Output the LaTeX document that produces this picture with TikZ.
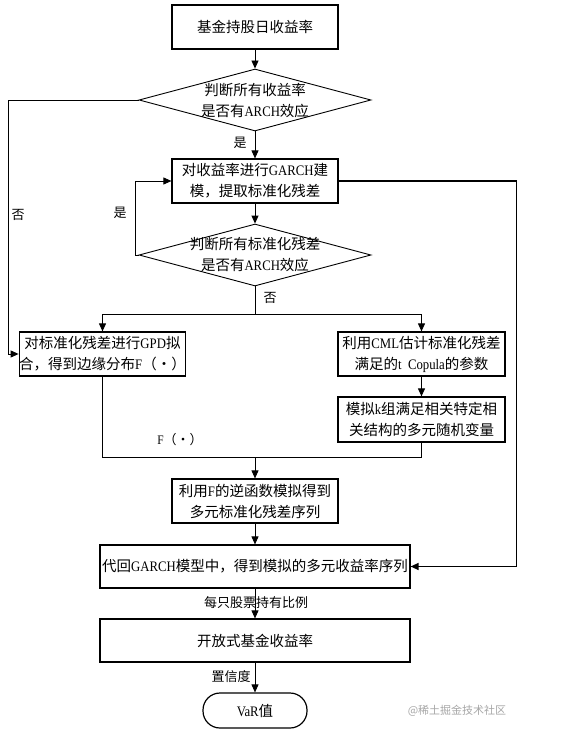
\documentclass[tikz,border=0pt]{standalone}
\usepackage{fontspec}
\setmainfont{Liberation Serif}[FakeStretch=0.88]
\newfontfamily\cjk{Noto Sans CJK SC}
\usetikzlibrary{shapes.geometric,arrows.meta}
\newcommand\zh[1]{{\cjk #1}}
\tikzset{
  box/.style={draw, line width=1.2pt, inner sep=0pt, align=center,
    font=\fontsize{14.5}{21}\selectfont},
  dia/.style={draw, shape=diamond, line width=0.9pt, inner sep=0pt,
    minimum width=232pt, minimum height=62pt},
  diatext/.style={align=center, inner sep=0pt, font=\fontsize{14.5}{21}\selectfont},
  lbl/.style={inner sep=0pt, font=\fontsize{13}{15}\selectfont},
  conn/.style={line width=0.9pt},
  arr/.style={conn, -{Triangle[length=8pt,width=7pt]}},
}
\begin{document}
\begin{tikzpicture}[x=1pt,y=-1pt]
\useasboundingbox (0,0) rectangle (580,738);
\node[box, minimum width=166pt, minimum height=44pt] (b1) at (255,27) {\zh{基金持股日收益率}};
\node[dia] (d1) at (255,100) {};
\node[diatext] (t1) at (255,100) {\zh{判断所有收益率}\\\zh{是否有}ARCH\zh{效应}};
\node[box, minimum width=166pt, minimum height=44pt] (b2) at (255,181) {\zh{对收益率进行}GARCH\zh{建}\\\zh{模，提取标准化残差}};
\node[dia] (d2) at (255,255) {};
\node[diatext] (t2) at (255,255) {\zh{判断所有标准化残差}\\\zh{是否有}ARCH\zh{效应}};
\node[box, minimum width=165pt, minimum height=44pt] (b3) at (102.5,354) {\zh{对标准化残差进行}GPD\zh{拟}\\\zh{合，得到边缘分布}F\zh{（•）}};
\node[box, minimum width=167pt, minimum height=44pt] (b4) at (421.5,354) {\zh{利用}CML\zh{估计标准化残差}\\\zh{满足的}t\ \ Copula\zh{的参数}};
\node[box, minimum width=167pt, minimum height=45pt] (b5) at (421.5,419.5) {\zh{模拟}k\zh{组满足相关特定相}\\\zh{关结构的多元随机变量}};
\node[box, minimum width=166pt, minimum height=44pt] (b6) at (255,501) {\zh{利用}F\zh{的逆函数模拟得到}\\\zh{多元标准化残差序列}};
\node[box, minimum width=310pt, minimum height=43pt] (b7) at (255,566.5) {\zh{代回}GARCH\zh{模型中，得到模拟的多元收益率序列}};
\node[box, minimum width=310pt, minimum height=43pt] (b8) at (255,640.5) {\zh{开放式基金收益率}};
\node[box, rounded corners=17pt, minimum width=104pt, minimum height=35pt] (t) at (255,710.5) {VaR\zh{值}};

% connectors
\draw[arr] (b1) -- (d1.north);
\draw[arr] (d1.south) -- (b2.north);
\node[lbl] (l1) at (240,143) {\zh{是}};
\draw[arr] (b2) -- (d2.north);
\draw[arr] (d2.west) -- ([xshift=-3pt]d2.west) |- (b2.west);
\node[lbl] (l2) at (120,213) {\zh{是}};
\draw[arr] (d1.west) -- ([xshift=-130pt]d1.west) |- (b3.west);
\node[lbl] (l3) at (18,215) {\zh{否}};
\draw[conn] (d2.south) -- ++(0,28) coordinate (split);
\draw[arr] (split) -| (b3.north);
\draw[arr] (split) -| (b4.north);
\node[lbl] (l4) at (270,298) {\zh{否}};
\draw[arr] (b4) -- (b5);
\coordinate (merge) at (255,457);
\draw[conn] (b3.south) |- (merge);
\draw[conn] (b5.south) |- (merge);
\draw[arr] (merge) -- (b6.north);
\node[lbl] (l5) at (180,440) {F\zh{（•）}};
\draw[arr] (b6) -- (b7);
\draw[arr, line width=1.3pt] (b2.east) -- ([xshift=178pt]b2.east) |- (b7.east);
\draw[arr] (b7) -- (b8);
\node[lbl] (l6) at (256,603) {\zh{每只股票持有比例}};
\draw[arr] (b8) -- (t);
\node[lbl] (l7) at (231,677) {\zh{置信度}};
\node[inner sep=0pt, text=black!35, font=\cjk\fontsize{11}{13}\selectfont] (wm) at (457,711) {@稀土掘金技术社区};
\end{tikzpicture}
\end{document}
